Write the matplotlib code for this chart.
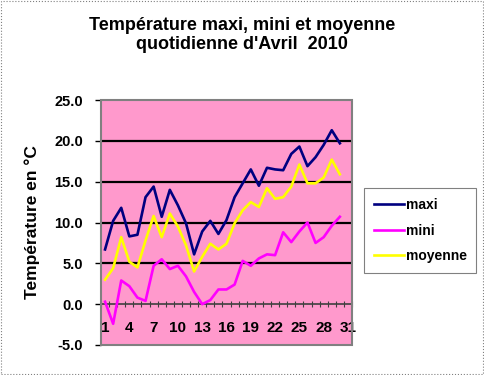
import matplotlib.pyplot as plt
from matplotlib.patches import Rectangle

plt.rcParams['font.family'] = ['Liberation Sans', 'DejaVu Sans']
plt.rcParams['font.weight'] = 'bold'

# daily temperatures, April 2010
days = list(range(1, 31))
maxi = [6.7, 10.2, 11.8, 8.3, 8.5, 13.1, 14.4, 10.7, 14.0, 12.1,
        9.9, 6.1, 8.9, 10.2, 8.6, 10.3, 13.1, 14.8, 16.5, 14.5,
        16.7, 16.5, 16.4, 18.4, 19.3, 16.9, 18.0, 19.5, 21.3, 19.7]
mini = [0.3, -2.4, 2.9, 2.2, 0.8, 0.4, 4.7, 5.5, 4.3, 4.7,
        3.4, 1.5, 0.0, 0.5, 1.8, 1.8, 2.4, 5.3, 4.7, 5.6,
        6.1, 6.0, 8.8, 7.6, 8.9, 10.0, 7.5, 8.2, 9.6, 10.7]
moyenne = [3.0, 4.4, 8.2, 5.2, 4.5, 7.8, 10.8, 8.2, 11.1, 9.5,
           7.2, 4.0, 5.8, 7.4, 6.7, 7.4, 9.9, 11.5, 12.5, 11.9,
           14.2, 12.9, 13.1, 14.4, 17.1, 14.8, 14.8, 15.5, 17.7, 15.9]
xticks = list(range(1, 32, 3))
yticks = [-5, 0, 5, 10, 15, 20, 25]

fig = plt.figure(figsize=(4.84, 3.75), dpi=100)
ax = fig.add_axes([101 / 484, 1 - 345 / 375, 251 / 484, 245 / 375])
ax.set_facecolor('#FF99CC')

# horizontal grid
for y in [5, 10, 15, 20]:
    ax.axhline(y, color='black', lw=1.6, zorder=1)

ax.plot(days, maxi, color='#000080', lw=1.9, label='maxi', zorder=3)
ax.plot(days, mini, color='#FF00FF', lw=1.9, label='mini', zorder=3)
ax.plot(days, moyenne, color='#FFFF00', lw=1.9, label='moyenne', zorder=3)

ax.set_xlim(0.5, 31.5)
ax.set_ylim(-5, 25)

# x axis crosses at 0
for s in ['top', 'right', 'left']:
    ax.spines[s].set_visible(False)
ax.spines['bottom'].set_position(('data', 0))
ax.spines['bottom'].set_color('#404040')
ax.spines['bottom'].set_linewidth(1.2)
ax.set_xticks(xticks)
ax.set_xticks([i + 0.5 for i in range(0, 32)], minor=True)
ax.tick_params(axis='x', which='major', length=0, pad=12, labelsize=11)
ax.tick_params(axis='x', which='minor', direction='inout', length=5, width=0.8,
               color='#404040')
ax.set_yticks(yticks)
ax.set_yticklabels([f'{v:.1f}' for v in yticks])
ax.tick_params(axis='y', direction='out', length=4, width=1, labelsize=10.5, pad=9)

ax.add_patch(Rectangle((0, 0), 1, 1, transform=ax.transAxes, fill=False,
                       edgecolor='#808080', lw=1.5, clip_on=False, zorder=5))

ax.set_ylabel('Température en °C', fontsize=12.5, fontweight='bold', labelpad=10)

fig.text(0.5, 1 - 35 / 375, "Température maxi, mini et moyenne\nquotidienne d'Avril  2010",
         ha='center', va='center', fontsize=13, fontweight='bold', linespacing=1.2)

leg = fig.legend(loc='upper left', bbox_to_anchor=(364 / 484, 1 - 188 / 375),
                 fontsize=10, frameon=True, fancybox=False, edgecolor='#606060',
                 handlelength=2.2, handletextpad=0.1, labelspacing=0.85,
                 borderpad=0.7, borderaxespad=0)
leg.get_frame().set_linewidth(0.8)

fig.add_artist(Rectangle((1 / 484, 1 / 375), 482 / 484, 373 / 375, transform=fig.transFigure,
                         fill=False, edgecolor='#808080', lw=0.8, ls=':'))

fig.savefig('out.png', dpi=100)
